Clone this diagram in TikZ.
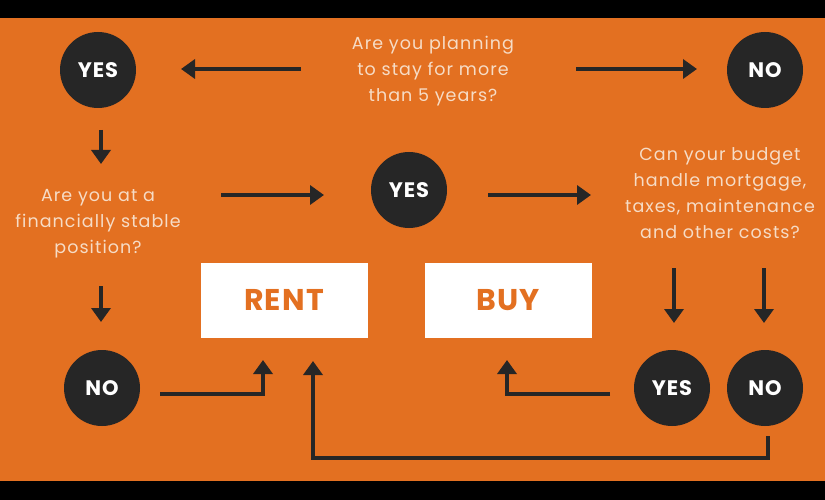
\documentclass[tikz,border=0pt]{standalone}
\usepackage{fontspec}
\setmainfont{Poppins}
\newfontfamily\qfont[LetterSpace=6]{Poppins}
\newfontfamily\bfont[LetterSpace=4]{Poppins}
\usetikzlibrary{arrows.meta}
\definecolor{bgor}{HTML}{E37021}
\definecolor{dk}{HTML}{262626}
\definecolor{qtxt}{HTML}{F6DCC6}
\tikzset{
  x=1pt,y=-1pt,
  dot/.style={circle,fill=dk,minimum size=76pt,inner sep=0pt,text=white,font=\bfont\bfseries\fontsize{21}{21}\selectfont},
  qtext/.style={align=center,text=qtxt,font=\qfont\fontsize{17.5}{26}\selectfont},
  resbox/.style={rectangle,fill=white,minimum width=167pt,minimum height=75pt,text=bgor,font=\bfont\bfseries\fontsize{30}{30}\selectfont},
  arr/.style={draw=dk,line width=4pt,-{Triangle[length=14pt,width=19pt]}},
}
\begin{document}
\begin{tikzpicture}
\useasboundingbox (0,0) rectangle (825,500);
\fill[black] (0,0) rectangle (825,500);
\fill[bgor] (0,18) rectangle (825,481);
% nodes
\node[dot] (yes1) at (98,70) {YES};
\node[dot] (no1) at (765,70) {NO};
\node[qtext] (q1) at (433,71) {Are you planning\\to stay for more\\than 5 years?};
\node[qtext] (q2) at (98,224) {Are you at a\\financially stable\\position?};
\node[dot] (yes2) at (409,190) {YES};
\node[qtext] (q3) at (720,193) {Can your budget\\handle mortgage,\\taxes, maintenance\\and other costs?};
\node[resbox] (rent) at (284,300) {RENT};
\node[resbox] (buy) at (508,300) {BUY};
\node[dot] (no2) at (102,388) {NO};
\node[dot] (yes3) at (672,388) {YES};
\node[dot] (no3) at (765,388) {NO};
% arrow ends
\coordinate (a1s) at (301,69); \coordinate (a1e) at (181,69);
\coordinate (a2s) at (576,69); \coordinate (a2e) at (697,69);
\coordinate (a3s) at (101,130); \coordinate (a3e) at (101,164);
\coordinate (a4s) at (221,195); \coordinate (a4e) at (324,195);
\coordinate (a5s) at (488,195); \coordinate (a5e) at (591,195);
\coordinate (a6s) at (101,286); \coordinate (a6e) at (101,322);
\coordinate (a7s) at (674,268); \coordinate (a7e) at (674,323);
\coordinate (a8s) at (764,268); \coordinate (a8e) at (764,323);
\coordinate (a9s) at (160,394); \coordinate (a9e) at (263,360);
\coordinate (a10s) at (610,394); \coordinate (a10e) at (507,360);
\coordinate (a11s) at (768,436); \coordinate (a11e) at (313,361);
\draw[arr] (a1s) -- (a1e);
\draw[arr] (a2s) -- (a2e);
\draw[arr] (a3s) -- (a3e);
\draw[arr] (a4s) -- (a4e);
\draw[arr] (a5s) -- (a5e);
\draw[arr] (a6s) -- (a6e);
\draw[arr] (a7s) -- (a7e);
\draw[arr] (a8s) -- (a8e);
\draw[arr] (a9s) -| (a9e);
\draw[arr] (a10s) -| (a10e);
\draw[arr] (a11s) |- (540,458) -| (a11e);
\end{tikzpicture}
\end{document}
